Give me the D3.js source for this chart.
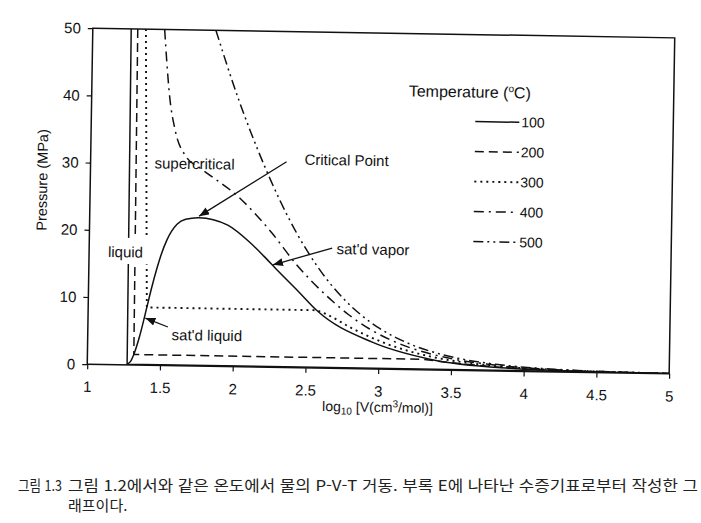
<!DOCTYPE html>
<html lang="ko">
<head>
<meta charset="utf-8">
<title>P-V-T behaviour of water</title>
<script src="https://cdn.jsdelivr.net/npm/d3@7"></script>
<style>
  body { margin: 0; background: #fff; }
  svg { display: block; font-family: "Liberation Sans", Arial, sans-serif; }
</style>
</head>
<body>
<div id="viz"></div>
<script>
// x = log10 V (cm3/mol), y = P (MPa)
var xTicks = [1, 1.5, 2, 2.5, 3, 3.5, 4, 4.5, 5];
var yTicks = [0, 10, 20, 30, 40, 50];
var temps = [100, 200, 300, 400, 500];

var iso100 = [[1.264, 50], [1.274, 0.101], [4.479, 0.101], [4.789, 0.05], [5, 0.031]];
var iso200 = [[1.309, 50], [1.319, 1.555], [3.30, 1.555], [3.57, 1.0], [3.884, 0.5], [4.289, 0.2], [4.592, 0.1], [5, 0.039]];
var iso300 = [[1.365, 50], [1.403, 8.59], [2.57, 8.59], [2.64, 8], [2.814, 6], [3.025, 4], [3.354, 2], [3.667, 1], [3.974, 0.5], [4.677, 0.1], [5, 0.048]];
var iso400 = [[1.494, 50], [1.513, 45], [1.536, 40], [1.578, 35], [1.66, 31], [1.75, 29.5], [2.034, 25], [2.253, 20], [2.42, 15.5], [2.677, 10], [2.791, 8], [2.931, 6], [3.121, 4], [3.435, 2], [3.742, 1], [4.046, 0.5], [4.747, 0.1], [5, 0.056]];
var iso500 = [[1.846, 50], [2.006, 40], [2.096, 35], [2.194, 30], [2.302, 25], [2.425, 20], [2.574, 15], [2.771, 10], [2.876, 8], [3.008, 6], [3.192, 4], [3.5, 2], [3.805, 1], [4.107, 0.5], [4.808, 0.1], [5, 0.064]];

var satLiquid = [[1.274, 0.101], [1.296, 0.476], [1.319, 1.555], [1.353, 3.976], [1.403, 8.59], [1.431, 11.27], [1.47, 14.59], [1.496, 16.51], [1.533, 18.65], [1.601, 21.03], [1.66, 21.8], [1.75, 22.06]];
var satVapor = [[1.85, 21.8], [1.95, 21.03], [2.097, 18.65], [2.201, 16.51], [2.289, 14.59], [2.446, 11.27], [2.57, 8.59], [2.956, 3.976], [3.361, 1.555], [3.849, 0.476], [4.479, 0.101]];

var isotherms = [iso100, iso200, iso300, iso400, iso500];
// number of leading points drawn straight (liquid line + tie line)
var straightPts = [3, 3, 3, 0, 0];

// line styles per temperature
var dashes = ["none", "9,5", "2,4", "10,5,2,5", "10,4,2,4,2,4"];
var ink = "#111";

var svg = d3.select("#viz").append("svg")
    .attr("width", 701)
    .attr("height", 523);

svg.append("rect").attr("width", 701).attr("height", 523).attr("fill", "#fff");

// the figure sits slightly tilted on the scanned page
var g = svg.append("g").attr("transform", "rotate(0.95,380,200)");

var x = d3.scaleLinear().domain([1, 5]).range([90, 672]);
var y = d3.scaleLinear().domain([0, 50]).range([369, 33]);

var defs = svg.append("defs");
defs.append("clipPath").attr("id", "plotClip")
  .append("rect")
    .attr("x", x(1)).attr("y", y(50))
    .attr("width", x(5) - x(1)).attr("height", y(0) - y(50));

defs.append("marker")
    .attr("id", "head")
    .attr("viewBox", "0 0 10 8")
    .attr("refX", 10).attr("refY", 4)
    .attr("markerWidth", 10).attr("markerHeight", 8)
    .attr("markerUnits", "userSpaceOnUse")
    .attr("orient", "auto")
  .append("path")
    .attr("d", "M0,0 L10,4 L0,8 Z")
    .attr("fill", ink);

var smooth = d3.line()
    .x(function(d) { return x(d[0]); })
    .y(function(d) { return y(d[1]); })
    .curve(d3.curveMonotoneX);
var straight = d3.line()
    .x(function(d) { return x(d[0]); })
    .y(function(d) { return y(d[1]); });

var plot = g.append("g").attr("clip-path", "url(#plotClip)");

// saturation dome
plot.append("path")
    .attr("d", smooth(satLiquid.concat(satVapor)))
    .attr("fill", "none")
    .attr("stroke", ink)
    .attr("stroke-width", 1.5);

// isotherms
isotherms.forEach(function(pts, i) {
  var k = straightPts[i];
  var d = "";
  if (k > 0) d += straight(pts.slice(0, k));
  var rest = pts.slice(Math.max(k - 1, 0));
  var tail = smooth(rest);
  d += k > 0 ? tail.replace(/^M[^CL]*/, "") : tail;
  plot.append("path")
      .attr("d", d)
      .attr("fill", "none")
      .attr("stroke", ink)
      .attr("stroke-width", i == 2 ? 1.9 : 1.5)
      .attr("stroke-dasharray", dashes[i]);
});

// gap in the liquid lines for the label
g.append("rect")
    .attr("x", x(1.10)).attr("y", y(18.9))
    .attr("width", x(1.43) - x(1.10))
    .attr("height", y(15.0) - y(18.9))
    .attr("fill", "#fff");

// labels and arrows (data units)
var labels = [
  {text: "supercritical", at: [1.44, 29.3]},
  {text: "Critical Point", at: [2.47, 30.2]},
  {text: "sat'd vapor", at: [2.70, 17.0]},
  {text: "sat'd liquid", at: [1.577, 3.8]},
  {text: "liquid", at: [1.13, 16.0]}
];
var arrows = [
  {from: [2.347, 30.6], to: [1.752, 22.3]},
  {from: [2.67, 17.86], to: [2.265, 15.25]},
  {from: [1.55, 5.73], to: [1.394, 7.0]}
];

g.selectAll(".lab").data(labels).enter().append("text")
    .attr("class", "lab")
    .attr("x", function(d) { return x(d.at[0]); })
    .attr("y", function(d) { return y(d.at[1]); })
    .attr("font-size", 15)
    .attr("fill", ink)
    .text(function(d) { return d.text; });

g.selectAll(".arr").data(arrows).enter().append("line")
    .attr("class", "arr")
    .attr("x1", function(d) { return x(d.from[0]); })
    .attr("y1", function(d) { return y(d.from[1]); })
    .attr("x2", function(d) { return x(d.to[0]); })
    .attr("y2", function(d) { return y(d.to[1]); })
    .attr("stroke", ink)
    .attr("stroke-width", 1.3)
    .attr("marker-end", "url(#head)");

// axes
var xAxis = g.append("g")
    .attr("transform", "translate(0," + y(0) + ")")
    .call(d3.axisBottom(x).tickValues(xTicks).tickSize(5).tickPadding(12).tickFormat(function(d) { return d; }));
var yAxis = g.append("g")
    .attr("transform", "translate(" + x(1) + ",0)")
    .call(d3.axisLeft(y).tickValues(yTicks).tickSize(5).tickPadding(7));

[xAxis, yAxis].forEach(function(a) {
  a.select(".domain").remove();
  a.selectAll("line").attr("stroke", ink).attr("stroke-width", 1.2);
  a.selectAll("text").attr("font-size", 15).attr("fill", ink)
      .attr("font-family", "'Liberation Sans', Arial, sans-serif");
});

// frame
g.append("rect")
    .attr("x", x(1)).attr("y", y(50))
    .attr("width", x(5) - x(1)).attr("height", y(0) - y(50))
    .attr("fill", "none")
    .attr("stroke", ink)
    .attr("stroke-width", 1.5);

// axis titles
g.append("text")
    .attr("transform", "translate(47," + y(27.3) + ") rotate(-90)")
    .attr("text-anchor", "middle")
    .attr("font-size", 14.5)
    .attr("fill", ink)
    .text("Pressure (MPa)");

var xt = g.append("text")
    .attr("x", (x(1) + x(5)) / 2)
    .attr("y", 412)
    .attr("text-anchor", "middle")
    .attr("font-size", 14)
    .attr("fill", ink);
xt.append("tspan").text("log");
xt.append("tspan").attr("font-size", 10).attr("dy", 3).text("10");
xt.append("tspan").attr("dy", -3).text(" [V(cm");
xt.append("tspan").attr("font-size", 10).attr("dy", -5).text("3");
xt.append("tspan").attr("dy", 5).text("/mol)]");

// legend
var lt = g.append("text")
    .attr("x", 407).attr("y", 96)
    .attr("font-size", 16)
    .attr("fill", ink);
lt.append("tspan").text("Temperature (");
lt.append("tspan").attr("font-size", 10).attr("dy", -6).text("o");
lt.append("tspan").attr("dy", 6).text("C)");

var leg = g.selectAll(".leg").data(temps).enter().append("g")
    .attr("class", "leg")
    .attr("transform", function(d, i) { return "translate(0," + (120 + i * 30) + ")"; });

leg.append("line")
    .attr("x1", 474).attr("x2", 518)
    .attr("stroke", ink)
    .attr("stroke-width", function(d, i) { return i == 2 ? 1.9 : 1.5; })
    .attr("stroke-dasharray", function(d, i) { return dashes[i]; });

leg.append("text")
    .attr("x", 520).attr("dy", "0.35em")
    .attr("font-size", 14)
    .attr("fill", ink)
    .text(function(d) { return d; });

// caption
var cap = svg.append("g")
    .attr("font-family", "'Noto Sans CJK KR', sans-serif")
    .attr("fill", "#222");
cap.append("text")
    .attr("x", 18).attr("y", 491)
    .attr("font-size", 15)
    .attr("textLength", 44).attr("lengthAdjust", "spacingAndGlyphs")
    .text("그림 1.3");
cap.append("text")
    .attr("x", 68).attr("y", 491)
    .attr("font-size", 15)
    .attr("textLength", 630).attr("lengthAdjust", "spacingAndGlyphs")
    .text("그림 1.2에서와 같은 온도에서 물의 P-V-T 거동. 부록 E에 나타난 수증기표로부터 작성한 그");
cap.append("text")
    .attr("x", 68).attr("y", 511)
    .attr("font-size", 15)
    .text("래프이다.");
</script>
</body>
</html>
